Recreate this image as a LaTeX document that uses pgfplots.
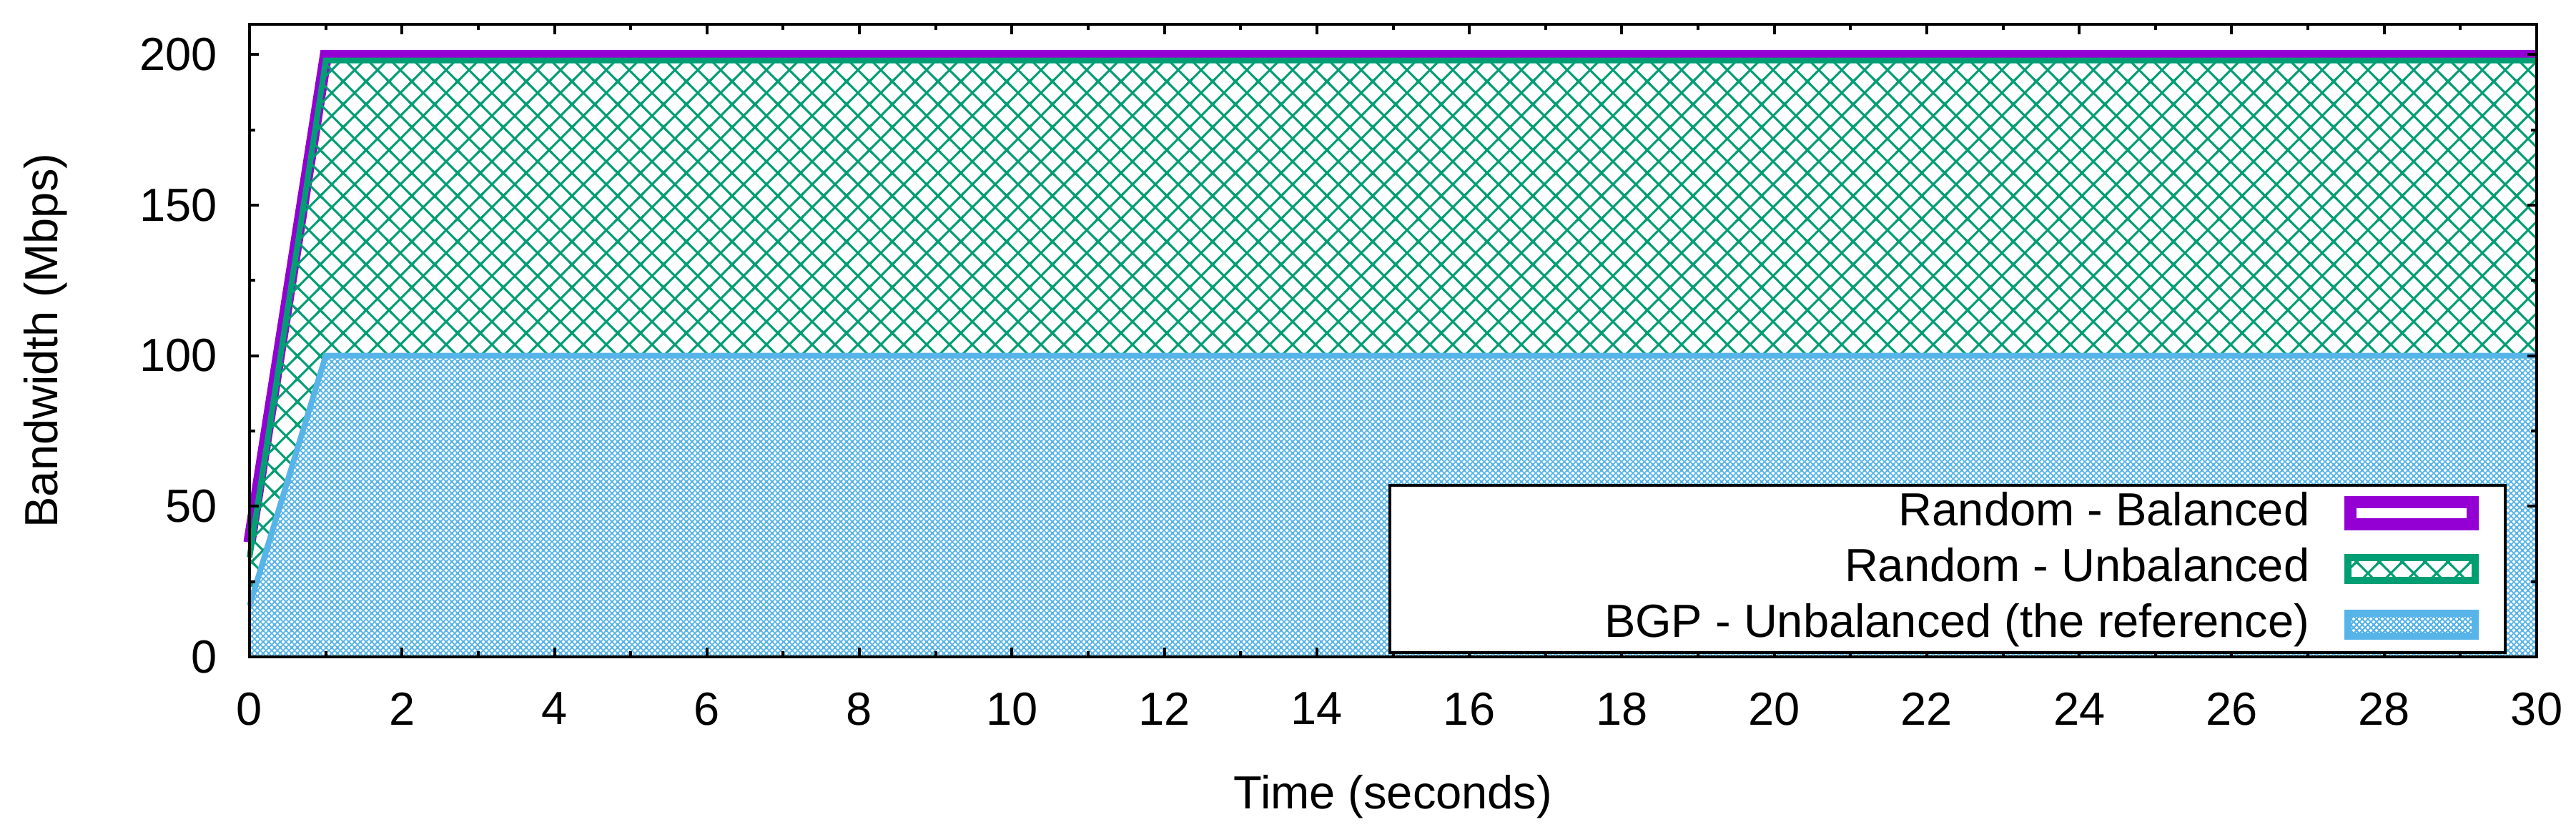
\documentclass[border=0pt]{standalone}
\usepackage{fontspec}
\setmainfont{Liberation Sans}
\usepackage{pgfplots}
\pgfplotsset{compat=1.18}
\usetikzlibrary{patterns.meta}

\definecolor{rpurple}{RGB}{148,0,211}
\definecolor{rgreen}{RGB}{0,158,115}
\definecolor{rblue}{RGB}{86,180,233}

% coarse diamond hatch (Random - Unbalanced)
\tikzdeclarepattern{
  name=greenx, type=uncolored,
  bounding box={(-1pt,-1pt) and (7.4pt,7.4pt)},
  tile size={(6.4pt,6.4pt)},
  code={
    \draw[line width=0.6pt] (-1pt,-1pt) -- (7.4pt,7.4pt);
    \draw[line width=0.6pt] (-1pt,7.4pt) -- (7.4pt,-1pt);
  }
}
% fine hatch (BGP - Unbalanced)
\tikzdeclarepattern{
  name=bluex, type=uncolored,
  bounding box={(-0.4pt,-0.4pt) and (2pt,2pt)},
  tile size={(1.6pt,1.6pt)},
  code={
    \draw[line width=0.3pt] (-0.4pt,-0.4pt) -- (2pt,2pt);
    \draw[line width=0.3pt] (-0.4pt,2pt) -- (2pt,-0.4pt);
  }
}

\begin{document}
\begin{tikzpicture}
\begin{axis}[
    at={(0,0)}, anchor=south west,
    scale only axis,
    width=639.8pt, height=177pt,
    xmin=0, xmax=30, ymin=0, ymax=210,
    xtick={0,2,...,30}, minor x tick num=1,
    ytick={0,50,...,200}, minor y tick num=1,
    tick align=inside,
    major tick length=2.7pt, minor tick length=1.6pt,
    every tick/.style={black, line width=0.8pt},
    axis line style={line width=0.8pt},
    axis on top,
    clip=false,
    /pgf/number format/assume math mode=true,
    tick label style={font=\fontsize{13}{15}\selectfont},
    yticklabel style={xshift=-5.5pt},
    xticklabel style={yshift=-6.5pt},
    label style={font=\fontsize{13}{15}\selectfont},
    xlabel={Time (seconds)},
    ylabel={Bandwidth (Mbps)},
    xlabel style={at={(axis description cs:0.5,-0.2215)}, anchor=center},
    ylabel style={at={(axis description cs:-0.0891,0.5)}, anchor=center},
    legend plot pos=right,
    legend cell align=right,
    legend style={
        at={(0.987,0.004)}, anchor=south east,
        draw=black, line width=0.8pt, fill=white,
        font=\fontsize{13}{15}\selectfont,
        inner xsep=7.4pt, inner ysep=1.4pt,
        column sep=9.8pt, row sep=2.8pt,
        nodes={inner sep=0pt, text height=9.8pt, text depth=3pt},
    },
]
% Random - Balanced
\addplot[rpurple, line width=3.4pt,
    legend image code/.code={\draw[rpurple, line width=3.4pt]
        (1.7pt,-3.1pt) rectangle (35.9pt,3.1pt);}]
    coordinates {(0,38) (1,199.5) (2,199.5) (3,199.5) (4,199.5) (5,199.5)
    (6,199.5) (7,199.5) (8,199.5) (9,199.5) (10,199.5) (11,199.5) (12,199.5)
    (13,199.5) (14,199.5) (15,199.5) (16,199.5) (17,199.5) (18,199.5)
    (19,199.5) (20,199.5) (21,199.5) (22,199.5) (23,199.5) (24,199.5)
    (25,199.5) (26,199.5) (27,199.5) (28,199.5) (29,199.5) (30,199.5)};
\addlegendentry{\makebox[249.8pt][r]{Random - Balanced}}

% Random - Unbalanced
\addplot[draw=none, pattern=greenx, pattern color=rgreen,
    legend image code/.code={\draw[rgreen, line width=2pt, pattern=greenx, pattern color=rgreen]
        (1pt,-3.2pt) rectangle (36.6pt,3.2pt);}]
    coordinates {(0,33) (1,198) (2,198) (3,198) (4,198) (5,198)
    (6,198) (7,198) (8,198) (9,198) (10,198) (11,198) (12,198)
    (13,198) (14,198) (15,198) (16,198) (17,198) (18,198)
    (19,198) (20,198) (21,198) (22,198) (23,198) (24,198)
    (25,198) (26,198) (27,198) (28,198) (29,198) (30,198)} \closedcycle;
\addlegendentry{\makebox[249.8pt][r]{Random - Unbalanced}}
\addplot[rgreen, line width=1.6pt, forget plot]
    coordinates {(0,33) (1,198) (30,198)};

% BGP - Unbalanced
\addplot[draw=none, fill=white, postaction={pattern=bluex, pattern color=rblue},
    legend image code/.code={\draw[rblue, line width=2pt, pattern=bluex, pattern color=rblue]
        (1pt,-3.2pt) rectangle (36.6pt,3.2pt);}]
    coordinates {(0,17) (1,100) (2,100) (3,100) (4,100) (5,100)
    (6,100) (7,100) (8,100) (9,100) (10,100) (11,100) (12,100)
    (13,100) (14,100) (15,100) (16,100) (17,100) (18,100)
    (19,100) (20,100) (21,100) (22,100) (23,100) (24,100)
    (25,100) (26,100) (27,100) (28,100) (29,100) (30,100)} \closedcycle;
\addlegendentry{\makebox[249.8pt][r]{BGP - Unbalanced (the reference)}}
\addplot[rblue, line width=1.6pt, forget plot]
    coordinates {(0,17) (1,100) (30,100)};
\end{axis}
\pgfresetboundingbox
\path (-69.8pt,-50.2pt) rectangle (650.8pt,183.8pt);
\end{tikzpicture}
\end{document}
